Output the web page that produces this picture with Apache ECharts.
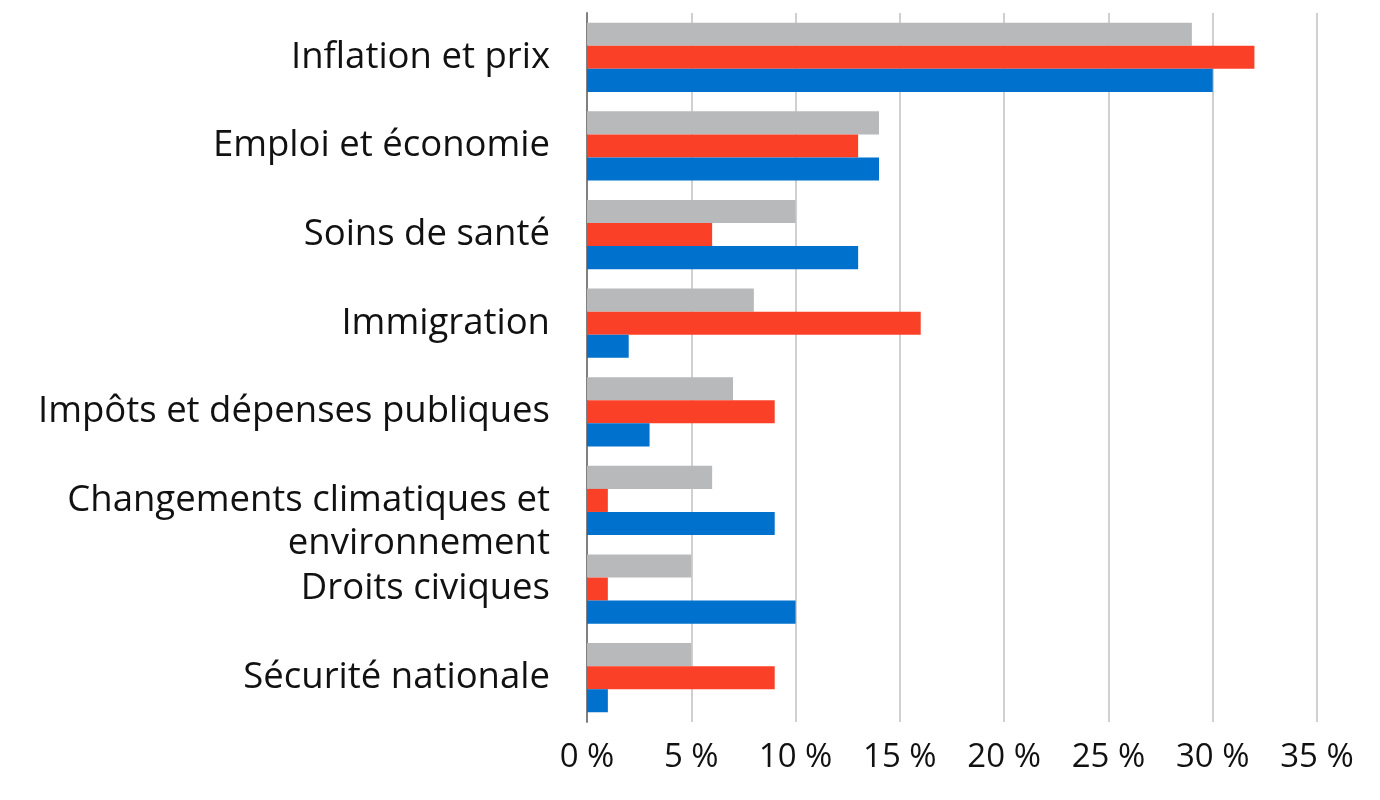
<!DOCTYPE html>
<html>
<head>
<meta charset="utf-8">
<script src="https://cdn.jsdelivr.net/npm/echarts@6/dist/echarts.min.js"></script>
<style>
  html, body { margin: 0; padding: 0; background: #fff; }
  #main { width: 1380px; height: 800px; }
</style>
</head>
<body>
<div id="main"></div>
<script>
// catégories (haut -> bas)
var categories = [
  "Inflation et prix",
  "Emploi et économie",
  "Soins de santé",
  "Immigration",
  "Impôts et dépenses publiques",
  "Changements climatiques et\nenvironnement",
  "Droits civiques",
  "Sécurité nationale"
];
var grisValues = [29, 14, 10, 8, 7, 6, 5, 5];
var rougeValues = [32, 13, 6, 16, 9, 1, 1, 9];
var bleuValues = [30, 14, 13, 2, 3, 9, 10, 1];

var myChart = echarts.init(document.getElementById("main"));
myChart.setOption({
  animation: false,
  grid: { left: 587, right: 63, top: 13, bottom: 78 },
  xAxis: {
    type: "value",
    min: 0,
    max: 35,
    interval: 5,
    axisLine: { show: false },
    axisTick: { show: false },
    splitLine: { lineStyle: { color: "#d0d0d0", width: 2 } },
    axisLabel: {
      formatter: "{value} %",
      fontFamily: "Open Sans",
      fontSize: 33,
      color: "#111",
      margin: 19
    }
  },
  yAxis: {
    type: "category",
    inverse: true,
    data: categories,
    axisLine: { lineStyle: { color: "#808080", width: 2 } },
    axisTick: { show: false },
    axisLabel: {
      margin: 37,
      fontFamily: "Open Sans",
      fontSize: 36.5,
      color: "#111",
      lineHeight: 43,
      formatter: function (v) {
        return v.indexOf("\n") >= 0 ? "{two|" + v + "}" : v;
      },
      rich: {
        two: { fontFamily: "Open Sans", fontSize: 36.5, lineHeight: 43, padding: [43, 0, 0, 0], align: "right" }
      }
    }
  },
  series: [
    { name: "gris", type: "bar", data: grisValues, barGap: "0%", barCategoryGap: "22%", itemStyle: { color: "#b8b9bb" } },
    { name: "rouge", type: "bar", data: rougeValues, itemStyle: { color: "#fa4128" } },
    { name: "bleu", type: "bar", data: bleuValues, itemStyle: { color: "#0071cd" } }
  ]
});
</script>
</body>
</html>
